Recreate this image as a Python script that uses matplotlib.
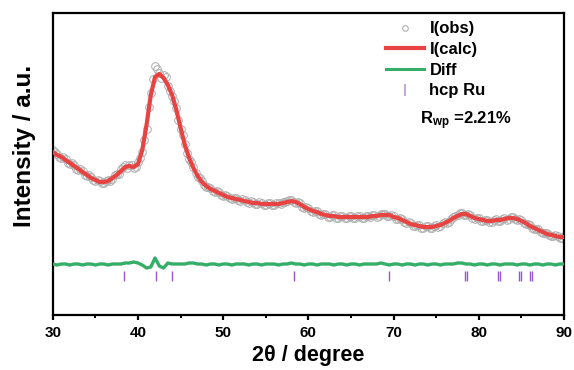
import numpy as np
import matplotlib
matplotlib.use("Agg")
import matplotlib.pyplot as plt
from matplotlib.lines import Line2D

plt.rcParams['font.family'] = ['Liberation Sans', 'DejaVu Sans']
plt.rcParams['font.weight'] = 'bold'
plt.rcParams['mathtext.fontset'] = 'custom'
plt.rcParams['mathtext.rm'] = 'Liberation Sans:bold'
plt.rcParams['mathtext.bf'] = 'Liberation Sans:bold'
plt.rcParams['mathtext.it'] = 'Liberation Sans:bold'

# 2theta grid (0.5 degree steps, 30 - 90) and the half-step grid
two_theta = np.arange(30.0, 90.0 + 0.25, 0.5)
two_theta_mid = np.arange(30.25, 90.0, 0.5)

obs = [165, 161, 157, 156, 151, 150, 145, 144, 139, 138,
       134, 134, 132, 135, 136, 141, 146, 150, 150, 147,
       153, 163, 186, 222, 249, 242, 240, 229, 219, 207,
       186, 171, 156, 148, 138, 134, 128, 127, 123, 123,
       119, 119, 116, 117, 114, 115, 112, 113, 111, 112,
       110, 112, 110, 112, 113, 114, 115, 112, 112, 107,
       107, 103, 104, 100, 101, 98, 100, 97, 99, 97,
       99, 97, 99, 97, 99, 100, 98, 101, 101, 99,
       99, 96, 96, 92, 92, 89, 90, 87, 89, 87,
       90, 89, 93, 93, 98, 100, 102, 100, 100, 96,
       97, 94, 95, 93, 96, 94, 97, 96, 98, 95,
       95, 91, 90, 86, 86, 82, 82, 79, 80, 77, 79]

obs_mid = [163, 158, 158, 152, 152, 146, 146, 140, 140, 135,
           135, 132, 134, 134, 140, 141, 148, 147, 150, 148,
           157, 175, 208, 236, 246, 237, 238, 224, 214, 195,
           180, 162, 153, 142, 137, 130, 128, 124, 124, 120,
           120, 117, 117, 115, 116, 113, 114, 111, 113, 110,
           112, 110, 112, 111, 113, 115, 113, 113, 108, 108,
           104, 104, 101, 101, 98, 100, 97, 99, 97, 99,
           97, 99, 97, 99, 98, 100, 99, 101, 99, 100,
           96, 97, 93, 93, 89, 90, 87, 89, 87, 89,
           88, 92, 92, 96, 99, 102, 100, 101, 97, 97,
           94, 95, 93, 95, 94, 96, 95, 98, 96, 96,
           92, 91, 87, 86, 83, 82, 80, 79, 79, 77]

calc = [163, 160, 158, 155, 152, 149, 146, 143, 140, 137,
        135, 133, 133, 134, 137, 140, 144, 148, 149, 148,
        151, 165, 190, 220, 238, 241, 237, 230, 220, 205,
        187, 170, 157, 147, 139, 133, 129, 126, 124, 122,
        120, 118, 117, 116, 115, 114, 113, 112, 112, 111,
        111, 111, 111, 111, 112, 113, 114, 113, 111, 108,
        106, 104, 103, 101, 100, 99, 99, 98, 98, 98,
        98, 98, 98, 98, 98, 99, 99, 100, 100, 100,
        98, 97, 95, 93, 91, 90, 89, 88, 88, 88,
        89, 90, 92, 94, 97, 99, 101, 101, 99, 97,
        96, 95, 94, 94, 95, 95, 96, 97, 97, 96,
        94, 92, 89, 87, 85, 83, 81, 80, 79, 78, 78]

diff = [51, 50, 51, 51, 50, 51, 51, 50, 51, 51,
        50, 51, 51, 50, 51, 51, 51, 52, 52, 53,
        52, 50, 47, 48, 57, 49, 47, 52, 51, 51,
        51, 51, 52, 52, 51, 51, 50, 51, 51, 50,
        51, 51, 50, 51, 51, 51, 50, 51, 51, 50,
        51, 51, 51, 50, 51, 51, 52, 51, 51, 50,
        51, 51, 50, 51, 51, 51, 50, 51, 51, 50,
        51, 51, 50, 51, 51, 51, 51, 52, 51, 50,
        51, 51, 50, 51, 51, 50, 51, 51, 50, 51,
        51, 50, 51, 51, 51, 52, 52, 51, 51, 50,
        51, 51, 50, 51, 51, 50, 51, 51, 51, 50,
        51, 51, 50, 51, 51, 50, 51, 51, 50, 51, 51]

# hcp Ru reflection positions (Ka1 / Ka2)
hcp_ru = [38.39, 42.15, 44.01, 58.33, 69.41, 78.39, 78.62,
          82.22, 82.47, 84.71, 84.97, 85.96, 86.23]
tick_lo, tick_hi = 34, 44

labels = ['I(obs)', 'I(calc)', 'Diff', 'hcp Ru']
rwp_text = r'R$_{\mathrm{wp}}$ =2.21%'

fig = plt.figure(figsize=(5.74, 3.70), dpi=100)
ax = fig.add_axes([0.092, 0.1486, 0.8906, 0.8164])

c_obs = '#ADADAD'
c_calc = '#E84343'
c_diff = '#35AE68'
c_tick = '#9457CC'

for xs, ys in ((two_theta, obs), (two_theta_mid, obs_mid)):
    ax.plot(xs, ys, linestyle='none', marker='o', markersize=5.5,
            markerfacecolor='none', markeredgecolor=c_obs,
            markeredgewidth=0.7, zorder=2)
ax.plot(two_theta, calc, color=c_calc, linewidth=3.0, zorder=3)
ax.plot(two_theta, diff, color=c_diff, linewidth=2.4, zorder=3)
ax.vlines(hcp_ru, tick_lo, tick_hi, color=c_tick, linewidth=1.0, zorder=3)

ax.set_xlim(30, 90)
ax.set_ylim(0, 302)
ax.set_xticks(np.arange(30, 91, 10))
ax.set_xticks(np.arange(35, 90, 10), minor=True)
ax.set_yticks([])
for s in ax.spines.values():
    s.set_linewidth(1.6)
ax.tick_params(axis='x', which='major', direction='out', length=3.6, width=1.6,
               labelsize=11, pad=4.2)
ax.tick_params(axis='x', which='minor', direction='out', length=2.0, width=1.4)
for lab in ax.get_xticklabels():
    lab.set_fontweight('bold')

ax.set_xlabel('2θ / degree', fontsize=15.5, fontweight='bold', labelpad=4)
ax.set_ylabel('Intensity / a.u.', fontsize=17.5, fontweight='bold', labelpad=8)
ax.yaxis.set_label_coords(-0.033, 0.56)

handles = [
    Line2D([], [], linestyle='none', marker='o', markersize=4,
           markerfacecolor='none', markeredgecolor=c_obs, markeredgewidth=0.8),
    Line2D([], [], color=c_calc, linewidth=3.0),
    Line2D([], [], color=c_diff, linewidth=2.2),
    Line2D([], [], linestyle='none', marker='|', markersize=8,
           markeredgecolor='#B49AD8', markeredgewidth=1.2),
]
leg = ax.legend(handles, labels, loc='upper left', bbox_to_anchor=(0.652, 0.972),
                frameon=False, fontsize=12, handlelength=2.3, handletextpad=0.3,
                labelspacing=0.34, borderpad=0, borderaxespad=0)
for t in leg.get_texts():
    t.set_fontweight('bold')

ax.text(0.718, 0.643, rwp_text, transform=ax.transAxes, fontsize=12,
        fontweight='bold', va='center', ha='left')

fig.savefig('out.png', dpi=100)
